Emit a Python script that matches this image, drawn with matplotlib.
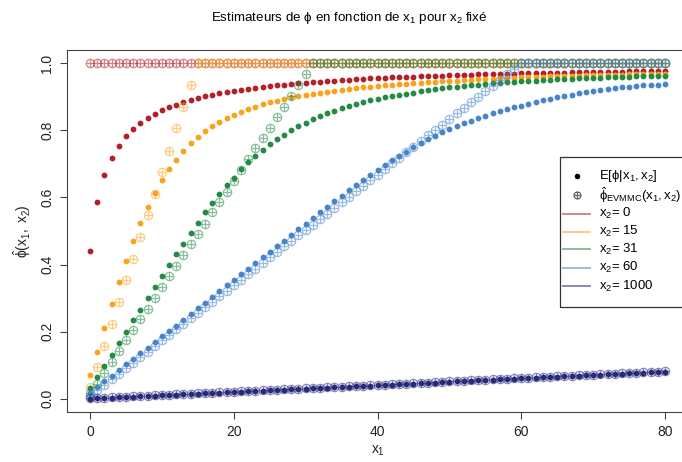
import numpy as np
import matplotlib
matplotlib.use("Agg")
import matplotlib.pyplot as plt
from matplotlib.path import Path
from matplotlib.lines import Line2D
from matplotlib.patches import Rectangle

plt.rcParams['font.family'] = ['Liberation Sans', 'DejaVu Sans']
plt.rcParams['mathtext.fontset'] = 'custom'
plt.rcParams['mathtext.rm'] = 'Liberation Sans'
plt.rcParams['mathtext.it'] = 'Liberation Sans'
plt.rcParams['mathtext.sf'] = 'Liberation Sans'
plt.rcParams['mathtext.bf'] = 'Liberation Sans:bold'
plt.rcParams['mathtext.fallback'] = 'stixsans'

x1 = list(range(81))
x2_values = [0, 15, 31, 60, 1000]

# E[phi | x1, x2]
e_0 = [0.441, 0.586, 0.666, 0.718, 0.755, 0.783, 0.805, 0.822, 0.837, 0.849,
       0.860, 0.869, 0.877, 0.885, 0.891, 0.897, 0.902, 0.907, 0.911, 0.915,
       0.919, 0.922, 0.925, 0.928, 0.931, 0.933, 0.935, 0.937, 0.939, 0.941,
       0.943, 0.944, 0.946, 0.947, 0.949, 0.950, 0.951, 0.952, 0.954, 0.955,
       0.956, 0.957, 0.958, 0.959, 0.959, 0.960, 0.961, 0.962, 0.963, 0.963,
       0.964, 0.965, 0.965, 0.966, 0.967, 0.967, 0.968, 0.968, 0.969, 0.969,
       0.970, 0.970, 0.971, 0.971, 0.972, 0.972, 0.972, 0.973, 0.973, 0.974,
       0.974, 0.974, 0.975, 0.975, 0.975, 0.976, 0.976, 0.976, 0.977, 0.977,
       0.977]
e_15 = [0.069, 0.140, 0.211, 0.281, 0.347, 0.410, 0.469, 0.523, 0.573, 0.614,
        0.651, 0.685, 0.713, 0.739, 0.762, 0.781, 0.798, 0.813, 0.825, 0.836,
        0.846, 0.855, 0.863, 0.871, 0.878, 0.884, 0.889, 0.894, 0.899, 0.903,
        0.907, 0.910, 0.913, 0.916, 0.919, 0.922, 0.924, 0.927, 0.929, 0.931,
        0.933, 0.935, 0.937, 0.938, 0.940, 0.941, 0.943, 0.944, 0.946, 0.947,
        0.948, 0.949, 0.950, 0.951, 0.952, 0.953, 0.954, 0.955, 0.956, 0.957,
        0.958, 0.958, 0.959, 0.960, 0.961, 0.961, 0.962, 0.962, 0.963, 0.964,
        0.964, 0.965, 0.965, 0.966, 0.966, 0.967, 0.967, 0.968, 0.968, 0.968,
        0.969]
e_31 = [0.032, 0.065, 0.098, 0.130, 0.165, 0.198, 0.233, 0.265, 0.299, 0.332,
        0.367, 0.399, 0.430, 0.462, 0.493, 0.524, 0.556, 0.584, 0.611, 0.636,
        0.659, 0.684, 0.705, 0.723, 0.741, 0.759, 0.773, 0.787, 0.801, 0.813,
        0.823, 0.834, 0.843, 0.851, 0.859, 0.866, 0.872, 0.879, 0.885, 0.890,
        0.895, 0.900, 0.904, 0.907, 0.910, 0.913, 0.917, 0.920, 0.923, 0.926,
        0.929, 0.931, 0.933, 0.935, 0.937, 0.939, 0.941, 0.942, 0.944, 0.945,
        0.947, 0.948, 0.949, 0.950, 0.951, 0.952, 0.953, 0.954, 0.955, 0.956,
        0.957, 0.957, 0.958, 0.959, 0.960, 0.960, 0.961, 0.962, 0.962, 0.963,
        0.963]
e_60 = [0.018, 0.035, 0.052, 0.068, 0.085, 0.102, 0.119, 0.135, 0.152, 0.169,
        0.186, 0.202, 0.218, 0.234, 0.252, 0.269, 0.286, 0.304, 0.320, 0.338,
        0.355, 0.371, 0.387, 0.405, 0.421, 0.438, 0.455, 0.471, 0.488, 0.505,
        0.522, 0.538, 0.556, 0.573, 0.590, 0.605, 0.621, 0.636, 0.651, 0.667,
        0.682, 0.697, 0.711, 0.724, 0.737, 0.751, 0.762, 0.773, 0.784, 0.794,
        0.803, 0.813, 0.822, 0.829, 0.837, 0.844, 0.851, 0.857, 0.863, 0.869,
        0.874, 0.880, 0.885, 0.890, 0.895, 0.899, 0.903, 0.907, 0.911, 0.914,
        0.918, 0.921, 0.924, 0.926, 0.929, 0.931, 0.933, 0.935, 0.936, 0.937,
        0.938]
e_1000 = [0.000, 0.001, 0.002, 0.003, 0.004, 0.005, 0.006, 0.007, 0.008, 0.009,
          0.010, 0.011, 0.012, 0.013, 0.014, 0.015, 0.016, 0.017, 0.018, 0.019,
          0.020, 0.021, 0.022, 0.023, 0.024, 0.025, 0.026, 0.027, 0.028, 0.029,
          0.030, 0.031, 0.032, 0.033, 0.034, 0.035, 0.036, 0.037, 0.038, 0.039,
          0.040, 0.041, 0.042, 0.043, 0.044, 0.045, 0.046, 0.047, 0.048, 0.049,
          0.050, 0.051, 0.052, 0.053, 0.054, 0.055, 0.056, 0.057, 0.058, 0.059,
          0.060, 0.061, 0.062, 0.063, 0.064, 0.065, 0.066, 0.067, 0.068, 0.069,
          0.070, 0.071, 0.072, 0.073, 0.074, 0.075, 0.076, 0.077, 0.078, 0.079,
          0.080]

# phi hat EVMMC(x1, x2), capped at 1
evmmc_0 = [1.0] * 81
evmmc_15 = [0.035, 0.095, 0.158, 0.224, 0.289, 0.354, 0.416, 0.481, 0.547, 0.611,
            0.676, 0.740, 0.807, 0.871, 0.935] + [1.0] * 66
evmmc_31 = [0.016, 0.045, 0.077, 0.108, 0.141, 0.174, 0.205, 0.236, 0.268, 0.300,
            0.332, 0.365, 0.396, 0.427, 0.460, 0.490, 0.522, 0.556, 0.587, 0.617,
            0.650, 0.682, 0.715, 0.747, 0.778, 0.808, 0.840, 0.871, 0.904, 0.935,
            0.968] + [1.0] * 50
evmmc_60 = [0.008, 0.025, 0.041, 0.058, 0.074, 0.091, 0.107, 0.124, 0.140, 0.157,
            0.174, 0.190, 0.207, 0.223, 0.240, 0.256, 0.273, 0.289, 0.306, 0.322,
            0.339, 0.355, 0.372, 0.388, 0.405, 0.421, 0.438, 0.455, 0.471, 0.488,
            0.503, 0.518, 0.536, 0.552, 0.569, 0.586, 0.602, 0.618, 0.635, 0.651,
            0.668, 0.685, 0.702, 0.719, 0.735, 0.751, 0.768, 0.785, 0.801, 0.817,
            0.833, 0.851, 0.866, 0.884, 0.899, 0.917, 0.932, 0.951, 0.967, 0.983] + [1.0] * 21
evmmc_1000 = [0.001, 0.002, 0.003, 0.004, 0.005, 0.006, 0.007, 0.008, 0.009, 0.010,
              0.011, 0.012, 0.013, 0.014, 0.015, 0.016, 0.017, 0.018, 0.019, 0.020,
              0.021, 0.022, 0.023, 0.024, 0.025, 0.026, 0.027, 0.028, 0.029, 0.030,
              0.031, 0.032, 0.033, 0.034, 0.035, 0.036, 0.037, 0.038, 0.039, 0.040,
              0.041, 0.042, 0.043, 0.044, 0.045, 0.046, 0.047, 0.048, 0.049, 0.050,
              0.051, 0.052, 0.053, 0.054, 0.055, 0.056, 0.057, 0.058, 0.059, 0.060,
              0.061, 0.062, 0.063, 0.064, 0.065, 0.066, 0.067, 0.068, 0.069, 0.070,
              0.071, 0.072, 0.073, 0.074, 0.075, 0.076, 0.077, 0.078, 0.079, 0.080,
              0.081]

colors = ['#B2202A', '#FBA21B', '#238B45', '#4884CB', '#272A7A']

W, H = 682, 462


def fig_xy(px, py):
    # pixel position -> figure fraction
    return px / W, 1 - py / H
# end def


def crossed_circle():
    circle = Path.unit_circle()
    cross = Path([[-1, 0], [1, 0], [0, -1], [0, 1]],
                 [Path.MOVETO, Path.LINETO, Path.MOVETO, Path.LINETO])
    return Path.make_compound_path(circle, cross)
# end def


CROSS = crossed_circle()

fig = plt.figure(figsize=(W / 100, H / 100), dpi=100)
x0, y0 = fig_xy(67, 412)
x1_, y1_ = fig_xy(688, 50)
ax = fig.add_axes([x0, y0, x1_ - x0, y1_ - y0])

e_series = [e_0, e_15, e_31, e_60, e_1000]
evmmc_series = [evmmc_0, evmmc_15, evmmc_31, evmmc_60, evmmc_1000]

for e_vals, ev_vals, col in zip(e_series, evmmc_series, colors):
    ax.plot(x1, e_vals, ls='none', marker='o', ms=4.2, mew=0, color=col)
    ax.plot(x1, ev_vals, ls='none', marker=CROSS, ms=6.0, mfc='none',
            mec=col, mew=0.9, alpha=0.55)
# end for

ax.set_xlim(-3.2, 83.2)
ax.set_ylim(-0.04, 1.04)
ax.set_xticks([0, 20, 40, 60, 80])
ax.set_yticks([0.0, 0.2, 0.4, 0.6, 0.8, 1.0])
ax.set_yticklabels(['0.0', '0.2', '0.4', '0.6', '0.8', '1.0'], rotation=90, va='center')
ax.tick_params(direction='out', length=5, width=0.8, color='#444444',
               labelsize=10, labelcolor='#222222', pad=4)
for sp in ax.spines.values():
    sp.set_color('#444444')
    sp.set_linewidth(0.8)
# end for

fig.text(*fig_xy(349, 18), r'Estimateurs de $\phi$ en fonction de $x_1$ pour $x_2$ fixé',
         ha='center', va='center', fontsize=9.6, color='black')
fig.text(*fig_xy(378, 451), r'$x_1$', ha='center', va='center', fontsize=10, color='#222222')
fig.text(*fig_xy(22, 231), r'$\hat{\phi}(x_1,\ x_2)$', ha='center', va='center',
         rotation=90, fontsize=10, color='#222222')

# legend box
bx, by = fig_xy(560, 307)
fig.add_artist(Rectangle((bx, by), 130 / W, 150 / H, transform=fig.transFigure,
                         fill=False, ec='#333333', lw=0.9))
rows = [176, 195, 213.5, 231.5, 249.5, 267.5, 286]

mx, my = fig_xy(577, rows[0])
fig.add_artist(Line2D([mx], [my], ls='none', marker='o', ms=4.0, mew=0,
                      color='black', transform=fig.transFigure))
mx, my = fig_xy(577, rows[1])
fig.add_artist(Line2D([mx], [my], ls='none', marker=CROSS, ms=5.0, mfc='none',
                      mec='black', mew=0.9, alpha=0.6, transform=fig.transFigure))
fig.text(*fig_xy(599, rows[0]), r'$\mathrm{E}[\phi|x_1,x_2]$', va='center', fontsize=9.5)
fig.text(*fig_xy(599, rows[1]), r'$\hat{\phi}_{\mathrm{EVMMC}}(x_1,x_2)$', va='center', fontsize=9.5)

for k, (x2, col) in enumerate(zip(x2_values, colors)):
    y = rows[k + 2]
    la, lb = fig_xy(563, y), fig_xy(590, y)
    fig.add_artist(Line2D([la[0], lb[0]], [la[1], lb[1]], color=col, lw=1.4,
                          alpha=0.55, transform=fig.transFigure))
    fig.text(*fig_xy(599, y), r'$x_2$= ' + str(x2), va='center', fontsize=9.5)
# end for

fig.savefig('out.png', dpi=100)
